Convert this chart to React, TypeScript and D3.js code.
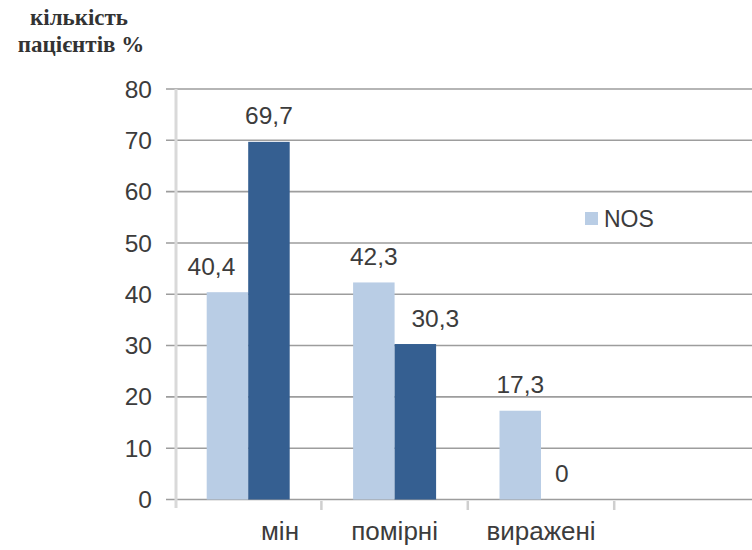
import React from "react";
import * as d3 from "d3";

// Severity categories (the last slot is an empty placeholder column)
const categories = ["без змін", "помірні", "виражені", ""];
const seriesNames = ["NOS", "comparison"];
const nosValues = [40.4, 42.3, 17.3, null];
const comparisonValues = [69.7, 30.3, 0, null];
const yTicks = [0, 10, 20, 30, 40, 50, 60, 70, 80];
const titleLines = ["кількість", "пацієнтів %"];

const W = 752;
const H = 550;
const colors: Record<string, string> = { NOS: "#b9cde5", comparison: "#355f91" };
const TEXT = "#3c3c3c";
const FONT = "'Liberation Sans', Arial, sans-serif";
const NUM_SIZE = 24.5;
const CAT_SIZE = 26;

// manual nudges of a few value labels, in px
const labelNudge: Record<string, number> = { "NOS-0": -16, "comparison-1": 20 };

export default function App() {
  const x0 = d3.scaleBand<string>().domain(categories.map((c, i) => String(i))).range([175, 175 + 146.4 * 4]).padding(0);
  const x1 = d3.scaleBand<string>().domain(seriesNames).range([0, x0.bandwidth()]).paddingInner(0).paddingOuter(0.764);
  const y = d3.scaleLinear().domain([0, 80]).range([499.5, 89]);

  const rows = categories.map((c, i) => ({
    key: String(i),
    label: c,
    values: [
      { s: "NOS", v: nosValues[i] },
      { s: "comparison", v: comparisonValues[i] },
    ],
  }));

  const fmt = (v: number) => (Number.isInteger(v) ? String(v) : v.toFixed(1).replace(".", ","));

  return (
    <svg width={W} height={H} style={{ position: "absolute", left: 0, top: 0, background: "#fff" }}>
      <defs>
        <clipPath id="firstLabelClip">
          <rect x={260} y={500} width={200} height={50} />
        </clipPath>
      </defs>
      {/* title */}
      <text fontFamily="'Liberation Serif', 'Times New Roman', serif" fontWeight="bold" fontSize={23} fill="#333" textAnchor="middle">
        <tspan x={79} y={25}>{titleLines[0]}</tspan>
        <tspan x={81} y={52}>{titleLines[1]}</tspan>
      </text>

      {/* gridlines + y tick labels */}
      {yTicks.map((t) => (
        <g key={t}>
          <line x1={166} x2={W} y1={y(t)} y2={y(t)} stroke="#9d9d9d" strokeWidth={1.6} />
          <text x={152} y={y(t)} dy="0.35em" textAnchor="end" fontFamily={FONT} fontSize={NUM_SIZE} fill={TEXT}>
            {t}
          </text>
        </g>
      ))}

      {/* y axis line */}
      <line x1={176} x2={176} y1={89} y2={508} stroke="#d9d9d9" strokeWidth={3} />

      {/* category separator ticks */}
      {categories.slice(1).map((c, i) => (
        <line key={i} x1={x0(String(i + 1))!} x2={x0(String(i + 1))!} y1={501} y2={510} stroke="#cfcfcf" strokeWidth={2.5} />
      ))}

      {/* bars and value labels */}
      {rows.map((r, i) => (
        <g key={r.key} transform={`translate(${x0(r.key)},0)`}>
          {r.values.map((d) =>
            d.v === null ? null : (
              <g key={d.s}>
                <rect x={x1(d.s)!} y={y(d.v)} width={x1.bandwidth()} height={y(0) - y(d.v)} fill={colors[d.s]} />
                <text
                  x={x1(d.s)! + x1.bandwidth() / 2 + (labelNudge[`${d.s}-${i}`] || 0)}
                  y={y(d.v) - 26}
                  dy="0.35em"
                  textAnchor="middle"
                  fontFamily={FONT}
                  fontSize={NUM_SIZE}
                  fill={TEXT}
                >
                  {fmt(d.v)}
                </text>
              </g>
            )
          )}
        </g>
      ))}

      {/* category labels */}
      {rows.map((r, i) =>
        r.label === "" ? null : i === 0 ? (
          <text key={r.key} x={299} y={531} dy="0.35em" textAnchor="end" fontFamily={FONT} fontSize={CAT_SIZE} fill={TEXT} clipPath="url(#firstLabelClip)">
            {r.label}
          </text>
        ) : (
          <text key={r.key} x={x0(r.key)! + x0.bandwidth() / 2} y={531} dy="0.35em" textAnchor="middle" fontFamily={FONT} fontSize={CAT_SIZE} fill={TEXT}>
            {r.label}
          </text>
        )
      )}

      {/* legend */}
      <rect x={585} y={212} width={13} height={13} fill={colors.NOS} />
      <text x={604} y={219} dy="0.35em" fontFamily={FONT} fontSize={23} fill={TEXT}>
        {seriesNames[0]}
      </text>
    </svg>
  );
}
